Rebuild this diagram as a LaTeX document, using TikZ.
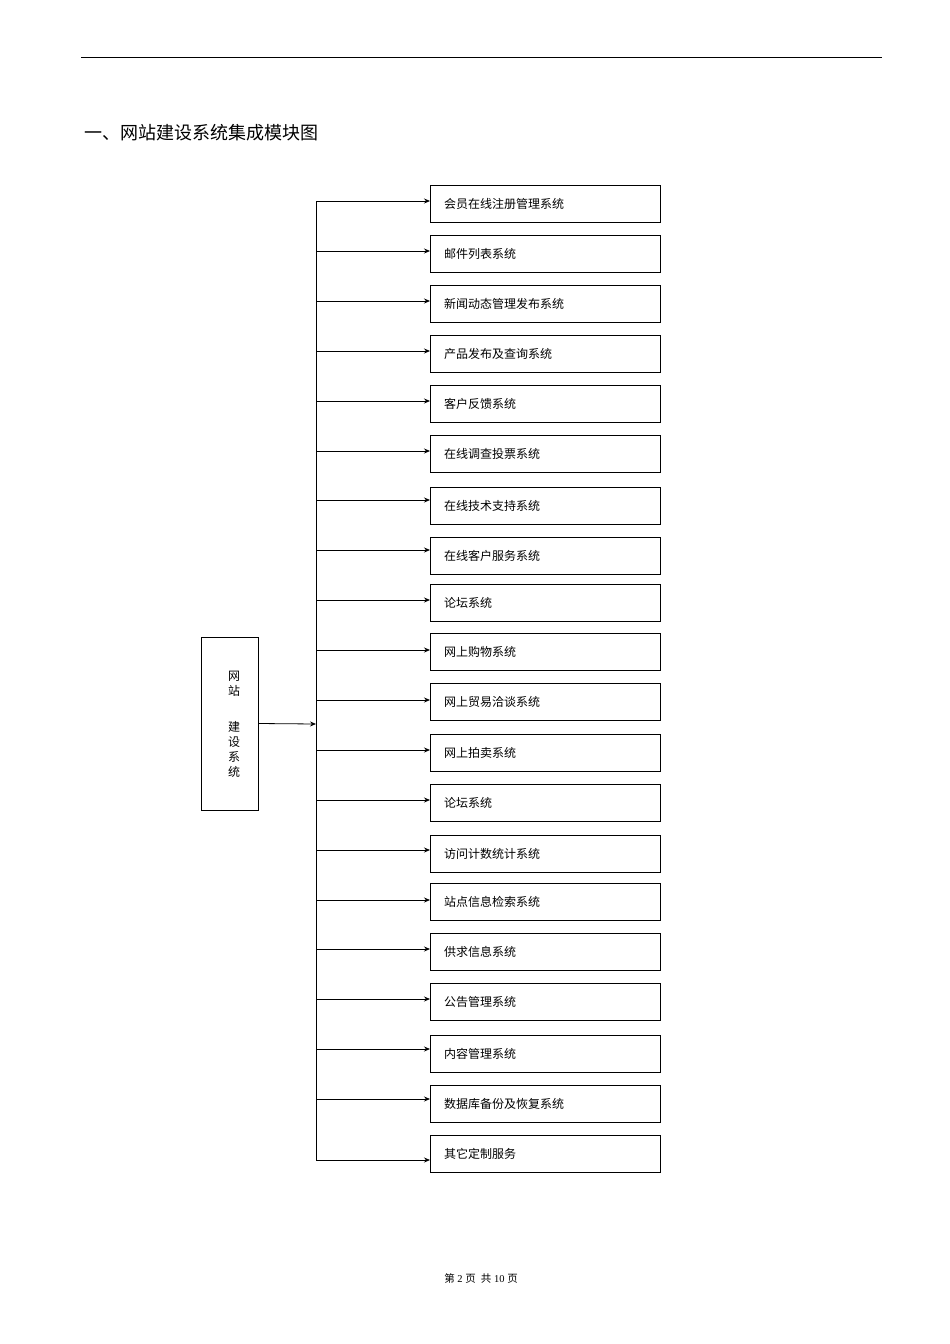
\documentclass[tikz,border=0pt]{standalone}
\usepackage{fontspec}
\setmainfont{Liberation Serif}
\newfontfamily\cjk{Noto Sans CJK SC}
\usetikzlibrary{arrows.meta}
\begin{document}
\begin{tikzpicture}[x=1pt,y=-1pt,
  mod/.style={draw,line width=0.8pt,minimum width=230pt,minimum height=37pt,anchor=north west,inner sep=0pt},
  lbl/.style={anchor=west,font=\cjk\fontsize{12pt}{14pt}\selectfont,inner sep=0pt},
  arr/.style={-{Stealth[length=6pt,width=5pt]},line width=0.8pt}]
\useasboundingbox (0,0) rectangle (950,1344);
\coordinate (tl) at (81,57); \coordinate (tr) at (882,57);
\draw[line width=1pt] (tl) -- (tr);
\node[anchor=west,font=\cjk\fontsize{18pt}{20pt}\selectfont,inner sep=0pt] (title) at (84,133) {一、网站建设系统集成模块图};
\node[draw,line width=0.8pt,minimum width=57pt,minimum height=173pt,inner sep=0pt] (root) at (229.5,723.5) {};
\node[font=\cjk\fontsize{12pt}{14pt}\selectfont,align=center,inner sep=0pt] (rt) at (234,724) {网\\[1pt]站\\[22pt]建\\[1pt]设\\[1pt]系\\[1pt]统};
\coordinate (bus) at (316,724);
\draw[arr] (root.east) -- (bus);
\coordinate (btop) at (316,201); \coordinate (bbot) at (316,1160);
\draw[line width=0.8pt] (btop) -- (bbot);
\foreach \i/\t/\ay/\txt in {
 1/185/201/会员在线注册管理系统,
 2/235/251/邮件列表系统,
 3/285/301/新闻动态管理发布系统,
 4/335/351/产品发布及查询系统,
 5/385/401/客户反馈系统,
 6/435/451/在线调查投票系统,
 7/487/500/在线技术支持系统,
 8/537/550/在线客户服务系统,
 9/584/600/论坛系统,
 10/633/650/网上购物系统,
 11/683/700/网上贸易洽谈系统,
 12/734/750/网上拍卖系统,
 13/784/800/论坛系统,
 14/835/850/访问计数统计系统,
 15/883/900/站点信息检索系统,
 16/933/949/供求信息系统,
 17/983/999/公告管理系统,
 18/1035/1049/内容管理系统,
 19/1085/1099/数据库备份及恢复系统,
 20/1135/1160/其它定制服务}{
  \node[mod] (m\i) at (430,\t) {};
  \node[lbl] (l\i) at (444,\t+19) {\txt};
  \coordinate (s\i) at (316,\ay);
  \draw[arr] (s\i) -- (m\i.west |- s\i);
}
\node[font=\fontsize{10.5pt}{12pt}\selectfont,inner sep=0pt] (foot) at (481,1278) {{\cjk 第} 2 {\cjk 页}\ \ {\cjk 共} 10 {\cjk 页}};
\end{tikzpicture}
\end{document}
